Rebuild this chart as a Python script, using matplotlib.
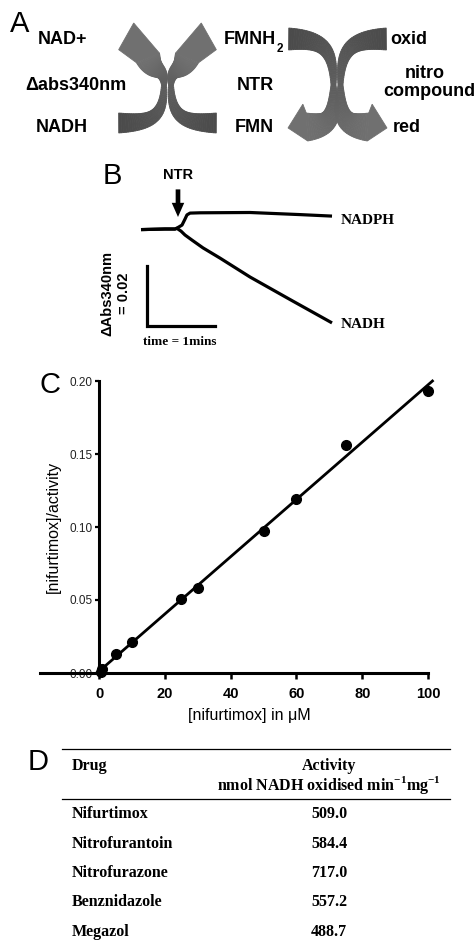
import numpy as np
import matplotlib
matplotlib.use("Agg")
import matplotlib.pyplot as plt
from matplotlib.patches import Polygon
from matplotlib.colors import to_rgb

SANS = ["Liberation Sans", "DejaVu Sans"]
SERIF = ["Liberation Serif", "DejaVu Serif"]
plt.rcParams["font.family"] = SANS
plt.rcParams["mathtext.fontset"] = "custom"
plt.rcParams["mathtext.rm"] = "Liberation Serif:bold"
plt.rcParams["mathtext.bf"] = "Liberation Serif:bold"

# ---- panel B: absorbance traces (time in min, delta A340) ----
t_nadph = [0.0, 0.353, 0.50, 0.544, 0.603, 0.647, 0.676, 0.721, 0.868, 1.603, 2.338, 2.809]
a_nadph = [-0.0002, 0.0, 0.0, 0.0005, 0.0013, 0.0033, 0.0047, 0.0053, 0.0054, 0.0055, 0.0048, 0.0043]
t_nadh = [0.0, 0.353, 0.50, 0.529, 0.588, 0.647, 0.75, 0.912, 1.162, 1.603, 2.191, 2.809]
a_nadh = [-0.0002, 0.0, 0.0, 0.0002, -0.0007, -0.002, -0.0037, -0.0063, -0.0097, -0.016, -0.0235, -0.0313]
t_ntr = 0.544
scale_t, scale_a = 1.0, 0.02

# ---- panel C: Hanes-type plot ----
conc = [0.5, 1, 5, 10, 25, 30, 50, 60, 75, 100]
ratio = [0.001, 0.0025, 0.013, 0.021, 0.051, 0.058, 0.097, 0.119, 0.156, 0.193]

# ---- panel D: table ----
drugs = ["Nifurtimox", "Nitrofurantoin", "Nitrofurazone", "Benznidazole", "Megazol"]
activity = [509.0, 584.4, 717.0, 557.2, 488.7]

fig = plt.figure(figsize=(4.74, 9.44), dpi=100)
ov = fig.add_axes([0, 0, 1, 1])
ov.set_xlim(0, 474); ov.set_ylim(944, 0); ov.axis("off")


def bez(p0, p1, p2, p3, n=40):
    s = np.linspace(0, 1, n)[:, None]
    return (1-s)**3*p0 + 3*(1-s)**2*s*p1 + 3*(1-s)*s**2*p2 + s**3*p3


def unit(v):
    v = np.asarray(v, float)
    return v / np.linalg.norm(v)


def band_arrow(ax, tail, dt, mid, dm, head, dh, w, tip_len, barb_along, barb_out, side,
               c0="#4b4b4b", c1="#707070"):
    # curved block arrow: tail -> mid -> head, barb only on the far side of the head
    tail, mid, head = (np.asarray(p, float) for p in (tail, mid, head))
    dt, dm, dh = unit(dt), unit(dm), unit(dh)
    k1 = 0.55 * np.linalg.norm(mid - tail)
    k2 = 0.55 * np.linalg.norm(head - mid)
    a = bez(tail, tail + dt*k1, mid - dm*k1, mid)
    b = bez(mid, mid + dm*k2, head - dh*k2, head)
    pts = np.vstack([a, b[1:]])
    s = np.linspace(0, 1, len(pts))
    wid = np.interp(s, [0, 0.5, 1], w)
    tg = np.gradient(pts, axis=0)
    tg /= np.linalg.norm(tg, axis=1)[:, None]
    nr = np.column_stack([-tg[:, 1], tg[:, 0]])
    L = pts + nr * wid[:, None] / 2
    R = pts - nr * wid[:, None] / 2
    ca, cb = np.array(to_rgb(c0)), np.array(to_rgb(c1))
    for i in range(len(pts) - 1):
        col = ca + (cb - ca) * s[i]
        ax.add_patch(Polygon([L[i], L[i+1], R[i+1], R[i]], closed=True,
                             fc=col, ec=col, lw=0.6))
    n = np.array([-dh[1], dh[0]]) * side
    hw = w[2] / 2
    poly = [head + n*hw, head + dh*tip_len, head + dh*barb_along - n*barb_out, head - n*hw]
    ax.add_patch(Polygon(poly, closed=True, fc=cb, ec=cb, lw=0.6))


# ---- panel A ----
ov.text(20, 24, "A", fontsize=21, ha="center", va="center")
fa = dict(fontsize=13, fontweight="bold", ha="center", va="center")
ov.text(63, 39, "NAD+", **fa)
ov.text(76, 85, "Δabs340nm", **fa)
ov.text(62, 127, "NADH", **fa)
fm = ov.text(250, 39, "FMNH", **fa)
ov.annotate("2", xy=(1, 0), xycoords=fm, xytext=(0.5, -1), textcoords="offset points",
            fontsize=8.5, fontweight="bold", ha="left", va="center")
ov.text(255, 85, "NTR", **fa)
ov.text(254, 127, "FMN", **fa)
ov.text(409, 39, "oxid", **fa)
ov.text(425, 74, "nitro", **fa)
ov.text(429, 91, "compound", **fa)
ov.text(407, 127, "red", **fa)

band_arrow(ov, (118.7, 123), (1, 0), (164, 85), (0, -1), (148, 58), (-0.378, -0.926),
           (20, 5, 25), 37.8, 18.8, 24, +1)
band_arrow(ov, (216.3, 123), (-1, 0), (171, 85), (0, -1), (187, 58), (0.378, -0.926),
           (20, 5, 25), 37.8, 18.8, 24, -1)
band_arrow(ov, (288.7, 39), (1, 0), (333.5, 85), (0, 1), (307, 127), (-1, 0.05),
           (22, 5, 28), 19, 3, 23, -1)
band_arrow(ov, (386.3, 39), (-1, 0), (340.5, 85), (0, 1), (368, 127), (1, 0.05),
           (22, 5, 28), 19, 3, 23, +1)

# ---- panel B ----
ov.text(112, 176, "B", fontsize=21, ha="center", va="center")
bx0, bx1, by0, by1 = 130, 350, 195, 345
axb = fig.add_axes([bx0/474, 1 - by1/944, (bx1-bx0)/474, (by1-by0)/944])
axb.set_xlim(-11/68, (bx1-141)/68)
axb.set_ylim((229-by1)/3000, (229-by0)/3000)
axb.axis("off")
axb.plot(t_nadph, a_nadph, color="black", lw=2.3, solid_joinstyle="round", solid_capstyle="butt")
axb.plot(t_nadh, a_nadh, color="black", lw=2.3, solid_joinstyle="round", solid_capstyle="butt")
axb.text(t_ntr, 0.018, "NTR", ha="center", va="center", fontsize=10.5, fontweight="bold", clip_on=False)
axb.annotate("", xy=(t_ntr, 0.0040), xytext=(t_ntr, 0.0132), annotation_clip=False,
             arrowprops=dict(arrowstyle="simple,head_length=0.85,head_width=0.75,tail_width=0.28",
                             mutation_scale=12, fc="black", ec="black", lw=0,
                             shrinkA=0, shrinkB=0))
fb = dict(fontsize=11, fontweight="bold", family=SERIF, ha="left", va="center")
axb.text(t_nadph[-1] + 0.13, a_nadph[-1] - 0.0013, "NADPH", **fb)
axb.text(t_nadh[-1] + 0.13, a_nadh[-1] - 0.0006, "NADH", **fb)
sx, sy = 0.084, -0.0323
axb.plot([sx, sx, sx + scale_t], [sy + scale_a, sy, sy], color="black", lw=2.3,
         solid_joinstyle="miter")
ov.text(107, 293, "ΔAbs340nm", rotation=90, fontsize=10.5, fontweight="bold", ha="center", va="center")
ov.text(124, 293, "= 0.02", rotation=90, fontsize=10.5, fontweight="bold", ha="center", va="center")
ov.text(180, 342, "time = 1mins", fontsize=9.5, fontweight="bold", family=SERIF, ha="center", va="center")

# ---- panel C ----
ov.text(50, 385, "C", fontsize=21, ha="center", va="center")
axc = fig.add_axes([40/474, 1 - 673/944, 388/474, 292/944])
axc.set_xlim(-18, 100)
axc.set_ylim(0, 0.2)
for sp in ("top", "right"):
    axc.spines[sp].set_visible(False)
axc.spines["left"].set_position(("data", 0))
for sp in ("left", "bottom"):
    axc.spines[sp].set_linewidth(2.2)
axc.spines["bottom"].set_zorder(4)
axc.patch.set_visible(False)
axc.set_xticks([0, 20, 40, 60, 80, 100])
axc.set_yticks([0, 0.05, 0.10, 0.15, 0.20])
axc.set_yticklabels(["0.00", "0.05", "0.10", "0.15", "0.20"], fontsize=8.5, color="#222222")
axc.set_xticklabels(["0", "20", "40", "60", "80", "100"], fontsize=10.5, fontweight="bold")
axc.tick_params(axis="x", direction="out", length=4, width=1.8, pad=6)
axc.tick_params(axis="y", direction="out", length=3, width=1.6, pad=2)
slope, icpt = np.polyfit(conc, ratio, 1)
xfit = np.array([0, (0.2 - icpt) / slope])
axc.plot(xfit, icpt + slope * xfit, color="black", lw=2.0, clip_on=False, zorder=3)
axc.plot(conc, ratio, "o", color="black", ms=7, clip_on=False, zorder=5)
axc.text(0.539, -0.144, "[nifurtimox] in μM", transform=axc.transAxes, fontsize=11.5,
         ha="center", va="center")
axc.text(0.0335, 0.5, "[nifurtimox]/activity", transform=axc.transAxes, fontsize=11.5,
         rotation=90, ha="center", va="center")

# ---- panel D ----
ov.text(38, 762, "D", fontsize=21, ha="center", va="center")
ov.plot([62, 450], [749, 749], color="black", lw=0.9)
ov.plot([62, 450], [799, 799], color="black", lw=0.9)
fd = dict(fontsize=11.5, fontweight="bold", family=SERIF, va="center")
ov.text(72, 766, "Drug", ha="left", **fd)
ov.text(329, 766, "Activity", ha="center", **fd)
ov.text(329, 785, r"nmol NADH oxidised min$^{\mathbf{-1}}$mg$^{\mathbf{-1}}$", ha="center", **fd)
for i, (d, v) in enumerate(zip(drugs, activity)):
    y = 814 + 29.5 * i
    ov.text(72, y, d, ha="left", **fd)
    ov.text(329, y, f"{v:.1f}", ha="center", **fd)

fig.savefig("out.png", dpi=100)
